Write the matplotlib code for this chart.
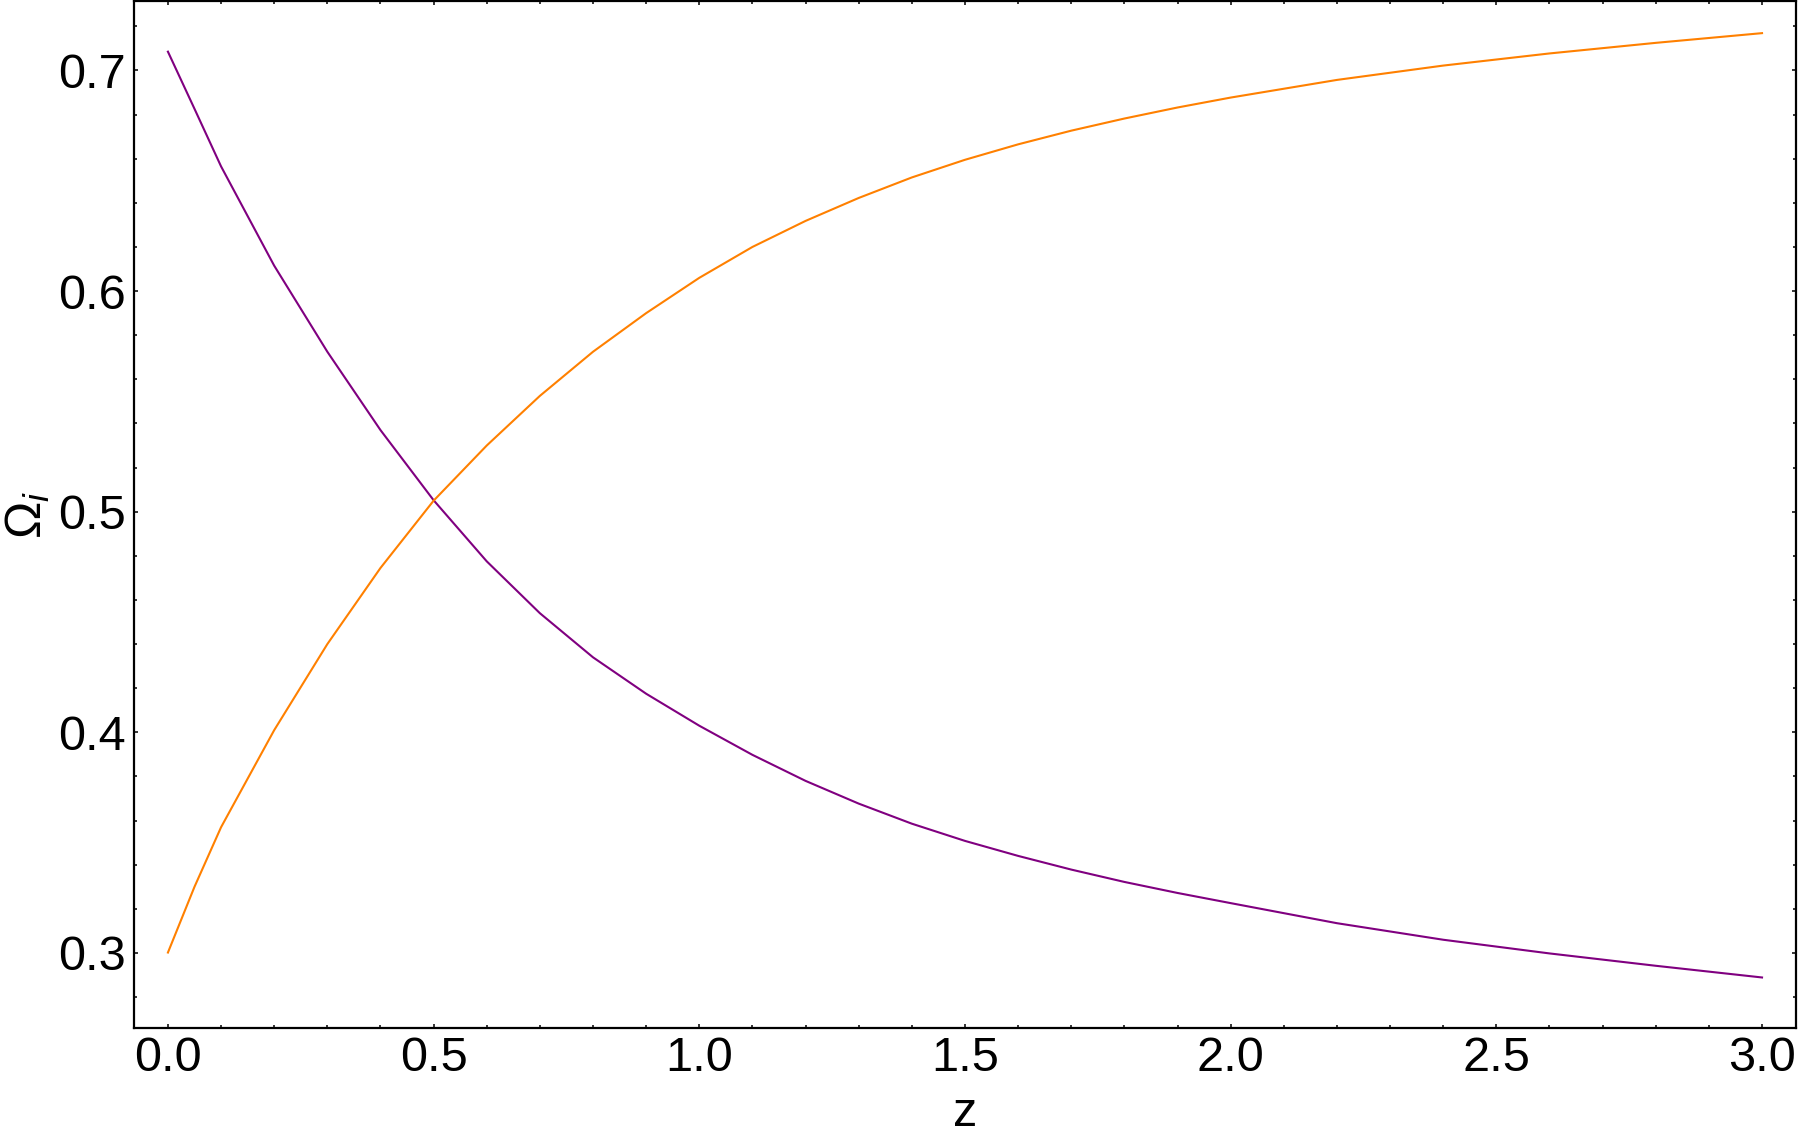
import matplotlib
matplotlib.use("Agg")
import matplotlib.pyplot as plt
from matplotlib.ticker import MultipleLocator

# ---- data ----
z = [0.0, 0.05, 0.1, 0.2, 0.3, 0.4, 0.5, 0.6, 0.7, 0.8, 0.9, 1.0,
     1.1, 1.2, 1.3, 1.4, 1.5, 1.6, 1.7, 1.8, 1.9, 2.0,
     2.2, 2.4, 2.6, 2.8, 3.0]
omega_purple = [0.7085, 0.6826, 0.6565, 0.6115, 0.5725, 0.5370, 0.5052, 0.4775,
                0.4540, 0.4340, 0.4175, 0.4030, 0.3898, 0.3780, 0.3677, 0.3586,
                0.3508, 0.3440, 0.3378, 0.3322, 0.3272, 0.3226, 0.3135, 0.3060,
                0.2998, 0.2942, 0.2889]
omega_orange = [0.3002, 0.3300, 0.3570, 0.4010, 0.4400, 0.4745, 0.5050, 0.5300,
                0.5525, 0.5725, 0.5900, 0.6060, 0.6200, 0.6318, 0.6422, 0.6515,
                0.6595, 0.6665, 0.6727, 0.6782, 0.6832, 0.6877, 0.6957, 0.7022,
                0.7077, 0.7125, 0.7169]
x_ticks = [0.0, 0.5, 1.0, 1.5, 2.0, 2.5, 3.0]
y_ticks = [0.3, 0.4, 0.5, 0.6, 0.7]

plt.rcParams['font.family'] = ['Liberation Sans', 'DejaVu Sans']
plt.rcParams['mathtext.fontset'] = 'custom'
plt.rcParams['mathtext.rm'] = 'Liberation Sans'
plt.rcParams['mathtext.it'] = 'Liberation Sans:italic'

fig = plt.figure(figsize=(18, 11.44), dpi=100)
ax = fig.add_axes([0.0744, 0.1014, 0.9234, 0.8974])

ax.plot(z, omega_purple, color='#800080', lw=1.5, solid_joinstyle='round')
ax.plot(z, omega_orange, color='#FF8000', lw=1.5, solid_joinstyle='round')

ax.set_xlim(-0.064, 3.064)
ax.set_ylim(0.266, 0.7313)
ax.set_xticks(x_ticks)
ax.set_xticklabels([f"{t:.1f}" for t in x_ticks])
ax.set_yticks(y_ticks)
ax.set_yticklabels([f"{t:.1f}" for t in y_ticks])
ax.xaxis.set_minor_locator(MultipleLocator(0.1))
ax.yaxis.set_minor_locator(MultipleLocator(0.02))

ax.tick_params(which='both', direction='in', top=True, right=True,
               labelsize=35, width=1.1, pad=6)
ax.tick_params(which='major', length=3.0)
ax.tick_params(which='minor', length=2.0)
for s in ax.spines.values():
    s.set_linewidth(1.6)

ax.set_xlabel('z', fontsize=35, labelpad=7)
ax.set_ylabel(r'$\Omega_i$', fontsize=36, labelpad=4)

fig.savefig('out.png', dpi=100)
